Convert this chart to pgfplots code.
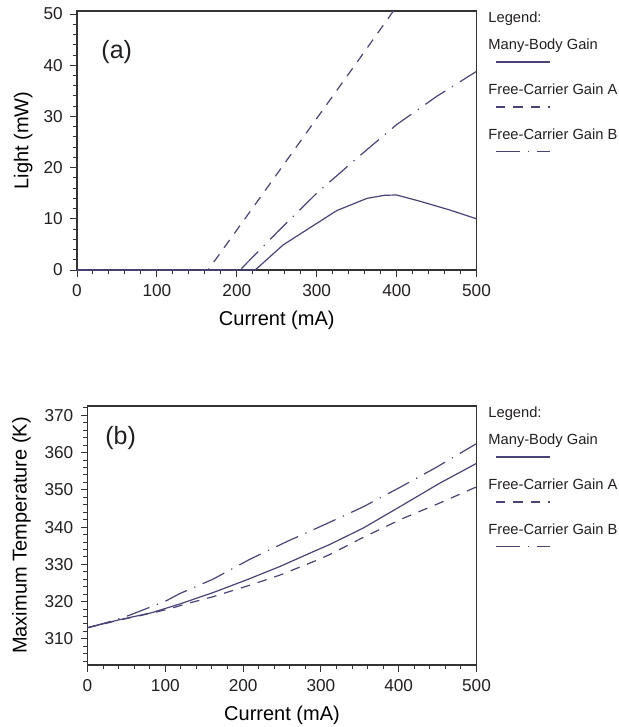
\documentclass[border=0pt]{standalone}
\usepackage{fontspec}
\setmainfont{Liberation Sans}
\usepackage{pgfplots}
\pgfplotsset{compat=1.18}
\definecolor{curve}{RGB}{72,68,120}
\definecolor{txt}{RGB}{35,31,32}

\tikzset{
  dashA/.style={dash pattern=on 4.8pt off 4pt},
  dashB/.style={dash pattern=on 12pt off 4pt on 0.6pt off 4pt},
}
\pgfplotsset{
  panel/.style={
    scale only axis, anchor=north east,
    xmin=0, xmax=500, xtick={0,100,...,500}, minor xtick={0,20,...,500},
    xtick pos=left, ytick pos=left, tick align=outside,
    major tick length=3.5pt, minor tick length=2.2pt,
    every axis/.append style={line width=0.6pt},
    axis line style={black!80},
    major tick style={black!80, line width=0.5pt},
    minor tick style={black!80, line width=0.5pt},
    tick label style={font=\fontsize{8.6}{10}\selectfont, text=txt},
    label style={font=\fontsize{9}{11}\selectfont, text=txt},
    /pgf/number format/assume math mode=true,
    xlabel={Current (mA)},
    every axis x label/.style={at={(axis description cs:0.5,-0.193)}, anchor=center},
  },
  curveline/.style={curve, line width=0.6pt, no marks},
}

\newcommand{\panellegend}[1]{%
  \begin{scope}[shift={(#1.north east)},
      every node/.style={anchor=base west, inner sep=0pt, text=txt, font=\fontsize{7.35}{9}\selectfont}]
    \node at (5.75pt,-5.6pt) {Legend:};
    \node at (5.75pt,-19.1pt) {Many-Body Gain};
    \draw[curve, line width=0.6pt] (9.5pt,-25.5pt) -- (36.75pt,-25.5pt);
    \node at (5.75pt,-41.6pt) {Free-Carrier Gain A};
    \draw[curve, line width=0.6pt, dashA] (9.5pt,-48pt) -- (36.75pt,-48pt);
    \node at (5.75pt,-64.1pt) {Free-Carrier Gain B};
    \draw[curve, line width=0.6pt, dashB] (9.5pt,-70.25pt) -- (36.75pt,-70.25pt);
  \end{scope}}

\begin{document}
\begin{tikzpicture}
\useasboundingbox (0,0) rectangle (309pt,363.5pt);

% (a) light output
\begin{axis}[panel, name=pa,
    at={(238.25pt,358pt)}, width=199.75pt, height=129.5pt,
    ymin=0, ymax=50.6, ytick={0,10,...,50}, minor ytick={0,2,...,50},
    ylabel={Light (mW)},
    every axis y label/.style={at={(axis description cs:-0.135,0.5)}, rotate=90, anchor=center},
  ]
\addplot[curveline] coordinates {(0,0) (223,0) (258,4.9) (288,7.9) (325,11.6) (363,14.0) (385,14.6)
  (400,14.65) (430,13.4) (467,11.7) (500,10)};
\addplot[curveline, dashA] coordinates {(0,0) (164,0) (200,7.8) (250,18.7) (300,29.6) (350,40.5) (396,50.6)};
\addplot[curveline, dashB] coordinates {(0,0) (204,0) (250,7.3) (300,15) (350,21.8) (400,28.4)
  (450,33.9) (500,38.8)};
\node[font=\fontsize{12.5}{14}\selectfont, text=txt] at (axis cs:49.7,42.6) {(a)};
\end{axis}
\panellegend{pa}

% (b) maximum temperature
\begin{axis}[panel, name=pb,
    at={(238.25pt,160.5pt)}, width=194.5pt, height=129.5pt,
    ymin=303, ymax=372.5, ytick={310,320,...,370}, minor ytick={304,306,...,372},
    ylabel={Maximum Temperature (K)},
    every axis y label/.style={at={(axis description cs:-0.17,0.5)}, rotate=90, anchor=center},
  ]
\addplot[curveline] coordinates {(0,313) (40,315.1) (82,317) (119,319.4) (161,322.4) (204,325.8)
  (247,329.4) (290,333.4) (311,335.3) (354,339.7) (405,345.9) (452,351.7) (500,357.1)};
\addplot[curveline, dashA] coordinates {(0,313) (40,315.0) (82,316.9) (104,318.0) (132,319.7)
  (161,321.3) (213,324.7) (247,327.1) (290,330.7) (311,332.6) (354,337.2) (405,342.3)
  (452,346.4) (500,350.8)};
\addplot[curveline, dashB] coordinates {(0,313) (25,314.4) (52,316.2) (100,320.1) (119,322.2)
  (161,326) (209,331.4) (256,336.1) (303,340.5) (354,345.4) (401,350.6) (448,356) (500,362.4)};
\node[font=\fontsize{12.5}{14}\selectfont, text=txt] at (axis cs:42.6,363.8) {(b)};
\end{axis}
\panellegend{pb}
\end{tikzpicture}
\end{document}
